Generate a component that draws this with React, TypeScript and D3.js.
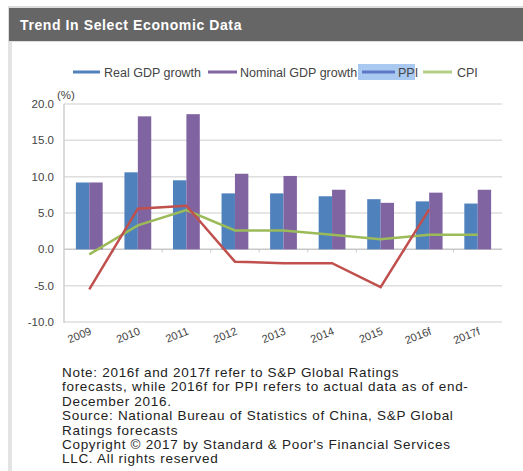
import React from "react";
import * as d3 from "d3";

const categories = ["2009", "2010", "2011", "2012", "2013", "2014", "2015", "2016f", "2017f"];
const realGDP = [9.2, 10.6, 9.5, 7.7, 7.7, 7.3, 6.9, 6.6, 6.3];
const nominalGDP = [9.2, 18.3, 18.6, 10.4, 10.1, 8.2, 6.4, 7.8, 8.2];
const ppi = [-5.5, 5.6, 6.0, -1.7, -1.9, -1.9, -5.2, 5.5];
const cpi = [-0.7, 3.3, 5.4, 2.6, 2.6, 2.0, 1.4, 2.0, 2.0];
const yTicks = [20, 15, 10, 5, 0, -5, -10];
const noteLines = [
  "Note: 2016f and 2017f refer to S&P Global Ratings",
  "forecasts, while 2016f for PPI refers to actual data as of end-",
  "December 2016.",
  "Source: National Bureau of Statistics of China, S&P Global",
  "Ratings forecasts",
  "Copyright \u00A9  2017 by Standard & Poor's Financial Services",
  "LLC. All rights reserved",
];

const W = 523;
const H = 471;
const font = "'Liberation Sans', Arial, sans-serif";

export default function App() {
  const x = d3.scaleBand<string>().domain(categories).range([65, 502]);
  const y = d3.scaleLinear().domain([-10, 20]).range([322, 104]);
  const bw = 13.4;
  const lineGen = d3
    .line<number>()
    .x((_, i) => (x(categories[i]) as number) + x.bandwidth() / 2)
    .y((d) => y(d));

  return (
    <svg
      width={W}
      height={H}
      style={{ position: "absolute", left: 0, top: 0, background: "#fff" }}
      fontFamily={font}
    >
      <rect x={0} y={0} width={W} height={H} fill="#fff" />
      {/* header */}
      <rect x={8} y={6} width={W - 8} height={36} fill="#dcdcdc" />
      <rect x={9} y={8} width={W - 9} height={33} fill="#666666" />
      <text x={20} y={29.5} fill="#fff" fontSize={14} fontWeight="bold" letterSpacing={0.6}>
        Trend In Select Economic Data
      </text>
      {/* left border */}
      <rect x={8} y={42} width={4} height={H - 42} fill="#e3e3e3" />

      {/* legend */}
      <g fontSize={12.5} fill="#444">
        <line x1={73} x2={100} y1={72} y2={72} stroke="#4f81bd" strokeWidth={3} />
        <text x={104} y={76.5}>Real GDP growth</text>
        <line x1={208} x2={237} y1={72} y2={72} stroke="#8064a2" strokeWidth={3} />
        <text x={240} y={76.5}>Nominal GDP growth</text>
        <rect x={358} y={64} width={57} height={16} fill="#a9c9f0" />
        <line x1={362} x2={395} y1={72} y2={72} stroke="#5e78c8" strokeWidth={3} />
        <text x={398} y={76.5}>PPI</text>
        <line x1={423} x2={452} y1={72} y2={72} stroke="#b4cf86" strokeWidth={3} />
        <text x={457} y={76.5}>CPI</text>
      </g>

      {/* gridlines */}
      {yTicks.map((t) => (
        <line
          key={"g" + t}
          x1={64}
          x2={502}
          y1={y(t)}
          y2={y(t)}
          stroke={t === 0 ? "#c8c8c8" : "#dedede"}
          strokeWidth={1.5}
        />
      ))}
      {/* y axis */}
      <line x1={64} x2={64} y1={104} y2={323} stroke="#cfcfcf" strokeWidth={1.5} />
      <g fontSize={11.5} fill="#444" textAnchor="end">
        {yTicks.map((t) => (
          <text key={"t" + t} x={54} y={y(t) + 4}>
            {t.toFixed(1)}
          </text>
        ))}
      </g>
      <text x={57} y={99} fontSize={11.5} fill="#444">
        (%)
      </text>
      {/* x ticks at 0 */}
      {categories.map((c, i) =>
        i === 0 ? null : (
          <line
            key={"xt" + c}
            x1={x(c) as number}
            x2={x(c) as number}
            y1={y(0)}
            y2={y(0) + 3}
            stroke="#c8c8c8"
          />
        )
      )}

      {/* bars */}
      {categories.map((c, i) => {
        const cx = (x(c) as number) + x.bandwidth() / 2;
        return (
          <g key={"b" + c}>
            <rect
              x={cx - bw}
              y={y(realGDP[i])}
              width={bw}
              height={y(0) - y(realGDP[i])}
              fill="#4f81bd"
            />
            <rect
              x={cx}
              y={y(nominalGDP[i])}
              width={bw}
              height={y(0) - y(nominalGDP[i])}
              fill="#8064a2"
            />
          </g>
        );
      })}

      {/* lines */}
      <path d={lineGen(cpi) || ""} fill="none" stroke="#9bbb59" strokeWidth={2.5} />
      <path d={lineGen(ppi) || ""} fill="none" stroke="#c0504d" strokeWidth={2.5} />

      {/* x labels */}
      <g fontSize={11} fill="#444" textAnchor="end">
        {categories.map((c) => {
          const cx = (x(c) as number) + x.bandwidth() / 2 + 3;
          const ty = 334;
          return (
            <text key={"xl" + c} x={cx} y={ty} transform={`rotate(-22 ${cx} ${ty})`}>
              {c}
            </text>
          );
        })}
      </g>

      {/* notes */}
      <g fontSize={13.5} fill="#222" letterSpacing={0.7}>
        {noteLines.map((l, i) => (
          <text key={"n" + i} x={62} y={377 + i * 14.4}>
            {l}
          </text>
        ))}
      </g>
    </svg>
  );
}
